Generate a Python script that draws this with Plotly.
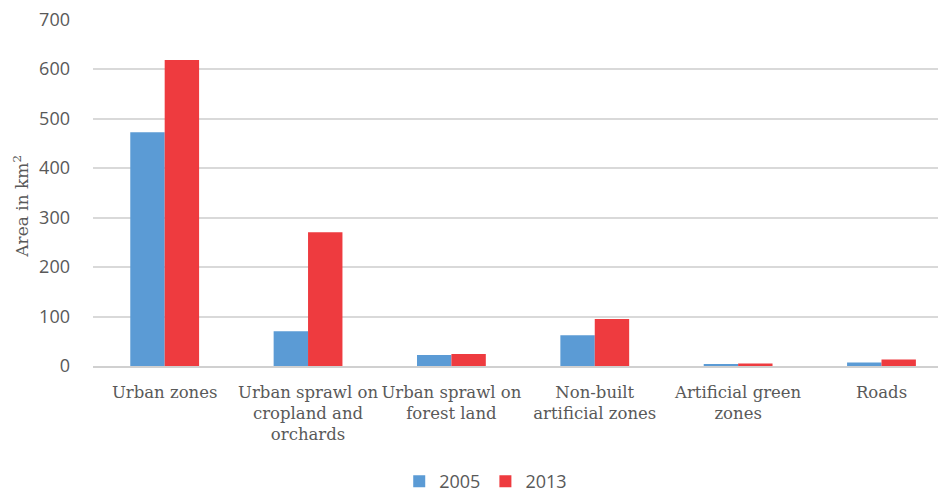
import plotly.graph_objects as go

categories = ["Urban zones", "Urban sprawl on<br>cropland and<br>orchards", "Urban sprawl on<br>forest land",
              "Non-built<br>artificial zones", "Artificial green<br>zones", "Roads"]
series_2005 = [472, 70, 22, 62, 3, 7]
series_2013 = [618, 270, 24, 95, 5, 13]
y_ticks = [0, 100, 200, 300, 400, 500, 600, 700]

serif = "DejaVu Serif"
sans = "Open Sans"

fig = go.Figure()
fig.add_trace(go.Bar(name="2005", x=categories, y=series_2005, marker_color="#5B9BD5", marker_line_width=0))
fig.add_trace(go.Bar(name="2013", x=categories, y=series_2013, marker_color="#EE3B3F", marker_line_width=0))

fig.update_layout(
    width=946, height=492,
    margin=dict(l=85, r=8, t=11, b=134, autoexpand=False),
    paper_bgcolor="white", plot_bgcolor="white",
    barmode="group", bargap=0.52, bargroupgap=0,
    showlegend=True,
    legend=dict(orientation="h", xref="container", yref="container", x=0.505, xanchor="center",
                y=0.0, yanchor="bottom", font=dict(family=sans, size=18, color="#595959"),
                itemwidth=30, traceorder="normal"),
    xaxis=dict(range=[-0.5, 5.45], showgrid=False, showline=True, linecolor="#d0d0d0", linewidth=1.5,
               automargin=False, ticklabelstandoff=10,
               tickfont=dict(family=serif, size=16.5, color="#595959"), ticks=""),
    yaxis=dict(range=[0, 701], tickvals=y_ticks, showgrid=True, gridcolor="#d9d9d9", gridwidth=1.5,
               zeroline=False, showline=False, automargin=False, ticklabeloverflow="allow",
               tickfont=dict(family=sans, size=18, color="#595959"), ticklabelstandoff=22),
    annotations=[dict(text="Area in km<sup>2</sup>", xref="paper", yref="paper", x=-0.084, y=0.46,
                      xanchor="center", yanchor="middle", textangle=-90, showarrow=False,
                      font=dict(family=serif, size=17, color="#595959"))],
)

fig.write_html("out.html")
